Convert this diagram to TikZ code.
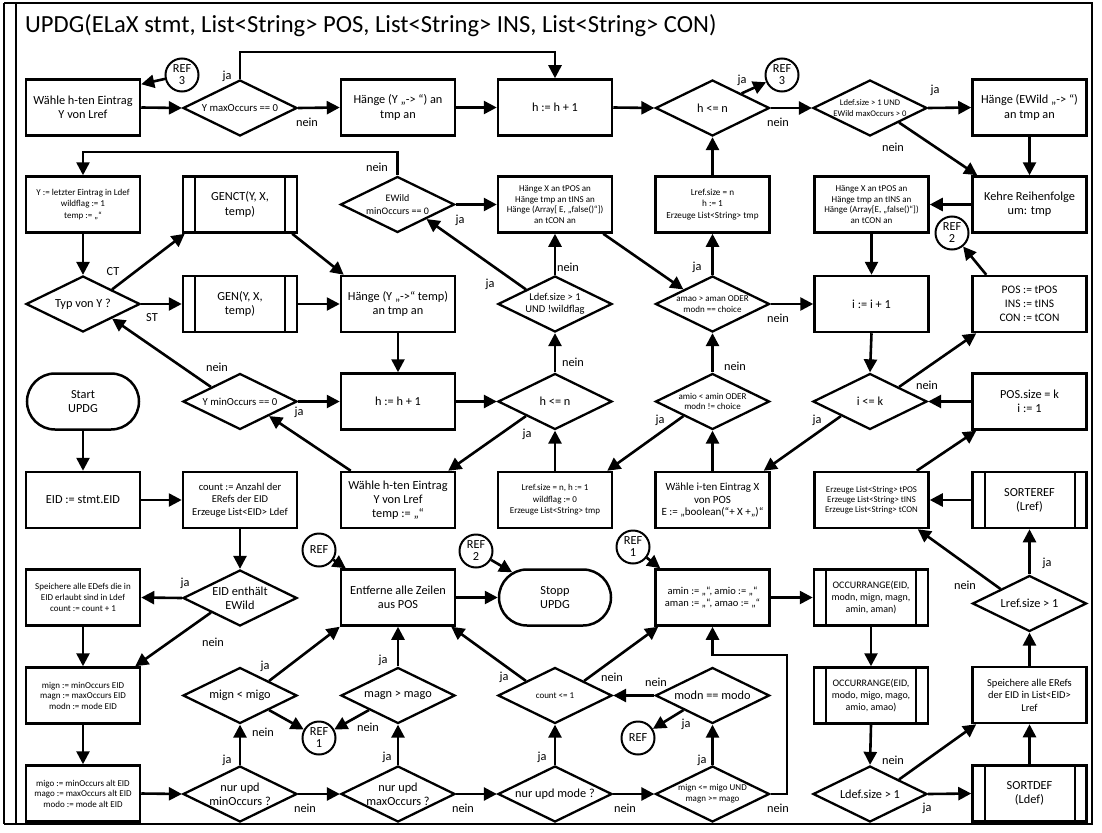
\documentclass[tikz,border=0pt]{standalone}
\usepackage{fontspec}
\setmainfont{Carlito}
\usetikzlibrary{arrows.meta,shapes.geometric,shapes.misc,calc}

\newcommand\szN{\fontsize{12.3}{14.2}\selectfont}
\newcommand\szT{\fontsize{24.6}{28}\selectfont}
\newcommand\szR{\fontsize{12.3}{12}\selectfont}
\newcommand\fsz[2]{\fontsize{#1}{#2}\selectfont}

\tikzset{
  box/.style={draw, line width=2.5pt, rectangle, minimum width=114pt, minimum height=56pt,
    inner sep=1pt, align=center, font=\szN},
  subproc/.style={box, path picture={
    \draw[line width=2pt]
      ([xshift=12pt]path picture bounding box.north west) -- ([xshift=12pt]path picture bounding box.south west)
      ([xshift=-12pt]path picture bounding box.north east) -- ([xshift=-12pt]path picture bounding box.south east);}},
  term/.style={draw, line width=2.5pt, rounded rectangle, minimum width=114pt, minimum height=56pt,
    inner sep=1pt, align=center, font=\szN},
  dia/.style={draw, line width=2.3pt, diamond, minimum width=114pt, minimum height=56pt, inner sep=0pt},
  dtxt/.style={align=center, inner sep=0pt, font=\szN},
  refc/.style={draw, line width=2pt, circle, minimum size=33pt, inner sep=0pt, align=center, font=\szR},
  arr/.style={line width=2.6pt, -{Triangle[length=13pt,width=13pt]}},
  lbl/.style={inner sep=0pt, font=\szN},
}

\begin{document}
\begin{tikzpicture}[x=1pt,y=-1pt]
\useasboundingbox (0,0) rectangle (1102,832);

% frame
\draw[line width=2pt] (4,3) -- (4,824);
\draw[line width=2pt] (15.5,3) -- (15.5,824);
\draw[line width=2.5pt] (4,3) -- (1092,3) -- (1092,824) -- (4,824);
\node[anchor=base west, inner sep=0pt, font=\szT] (title) at (25,33)
  {UPDG(ELaX stmt, List<String> POS, List<String> INS, List<String> CON)};

% ---------- row 1
\node[box] (wahl1) at (83,107.5) {Wähle h-ten Eintrag\\Y von Lref};
\node[dia, label={[dtxt,font=\fsz{10.7}{12}]center:{Y maxOccurs == 0}}] (dmax) at (240,108) {};
\node[box] (haenge1) at (398,107.5) {Hänge (Y „-> “) an\\tmp an};
\node[box] (hinc1) at (555,107.5) {h := h + 1};
\node[dia, label={[dtxt]center:{h <= n}}] (hle1) at (712.5,108) {};
\node[dia, label={[dtxt,font=\fsz{8.6}{10.4}]center:{Ldef.size > 1 UND\\EWild maxOccurs > 0}}] (dldef1) at (870,108) {};
\node[box] (haenge2) at (1029.5,107.5) {Hänge (EWild „-> “)\\an tmp an};
\node[refc] (ref3a) at (182,75) {REF\\3};
\node[refc] (ref3b) at (782,75) {REF\\3};

% ---------- row 2
\node[box, font=\fsz{9}{11.5}] (yletzt) at (83,204.5) {Y := letzter Eintrag in Ldef\\wildflag := 1\\temp := „“};
\node[subproc] (genct) at (240,204.5) {GENCT(Y, X,\\temp)};
\node[dia, label={[dtxt,font=\fsz{10}{12.5}]center:{EWild\\minOccurs == 0}}] (dewild) at (397.5,204.5) {};
\node[box, font=\fsz{9}{10.7}] (haengeXm) at (555,204.5) {Hänge X an tPOS an\\Hänge tmp an tINS an\\Hänge (Array[ E, „false()“])\\an tCON an};
\node[box, font=\fsz{9.2}{11.5}] (lrefn) at (712.5,204.5) {Lref.size = n\\h := 1\\Erzeuge List<String> tmp};
\node[box, font=\fsz{9}{10.7}] (haengeXr) at (871.5,204.5) {Hänge X an tPOS an\\Hänge tmp an tINS an\\Hänge (Array[E, „false()“])\\an tCON an};
\node[box] (kehre) at (1029.5,204.5) {Kehre Reihenfolge\\um: tmp};
\node[refc] (ref2a) at (952,233) {REF\\2};

% ---------- row 3
\node[dia, label={[dtxt]center:{Typ von Y ?}}] (dtyp) at (83,304) {};
\node[subproc] (gen) at (240,304) {GEN(Y, X,\\temp)};
\node[box] (haengeY2) at (398,304) {Hänge (Y „->“ temp)\\an tmp an};
\node[dia, label={[dtxt,font=\fsz{10.5}{11.7}]center:{Ldef.size > 1\\UND !wildflag}}] (dldef2) at (555,304) {};
\node[dia, label={[dtxt,font=\fsz{9}{10.7}]center:{amao > aman ODER\\modn == choice}}] (amao) at (712.5,304) {};
\node[box] (iinc) at (871.5,304) {i := i + 1};
\node[box, font=\fsz{11.5}{14}] (posas) at (1029.5,304) {POS := tPOS\\INS := tINS\\CON := tCON};

% ---------- row 4
\node[term] (start) at (83,401.5) {Start\\UPDG};
\node[dia, label={[dtxt,font=\fsz{10.7}{12}]center:{Y minOccurs == 0}}] (dminy) at (240,401.5) {};
\node[box] (hinc2) at (398,401.5) {h := h + 1};
\node[dia, label={[dtxt]center:{h <= n}}] (hle2) at (555,401.5) {};
\node[dia, label={[dtxt,font=\fsz{9}{10.7}]center:{amio < amin ODER\\modn != choice}}] (amio) at (712.5,401.5) {};
\node[dia, label={[dtxt]center:{i <= k}}] (ile) at (870,401.5) {};
\node[box] (possize) at (1029.5,401.5) {POS.size = k\\i := 1};

% ---------- row 5
\node[box] (eid) at (83,500) {EID := stmt.EID};
\node[box, font=\fsz{10.5}{12.7}] (count) at (240,500) {count := Anzahl der\\ERefs der EID\\Erzeuge List<EID> Ldef};
\node[box] (wahl2) at (398,500) {Wähle h-ten Eintrag\\Y von Lref\\temp := „“};
\node[box, font=\fsz{9}{11.5}] (lrefn2) at (555,500) {Lref.size = n, h := 1\\wildflag := 0\\Erzeuge List<String> tmp};
\node[box, font=\fsz{11}{12.8}] (wahli) at (712.5,500) {Wähle i-ten Eintrag X\\von POS\\E := „boolean(“+ X +„)“};
\node[box, font=\fsz{8.8}{10}] (erzeuge) at (871.5,500) {Erzeuge List<String> tPOS\\Erzeuge List<String> tINS\\Erzeuge List<String> tCON};
\node[subproc] (sortref) at (1029.5,500) {SORTEREF\\(Lref)};

% ---------- row 6
\node[box, font=\fsz{9}{10.6}] (speichD) at (83,597.5) {Speichere alle EDefs die in\\EID erlaubt sind in Ldef\\count := count + 1};
\node[dia, label={[dtxt]center:{EID enthält\\EWild}}] (deid) at (240,598) {};
\node[box] (entf) at (398,597.5) {Entferne alle Zeilen\\aus POS};
\node[term] (stopp) at (555,597.5) {Stopp\\UPDG};
\node[box, font=\fsz{10.5}{11.7}] (amin) at (712.5,597.5) {amin := „“, amio := „“\\aman := „“, amao := „“};
\node[subproc, font=\fsz{10}{11.7}] (occ1) at (871,597.5) {OCCURRANGE(EID,\\modn, mign, magn,\\amin, aman)};
\node[dia, label={[dtxt]center:{Lref.size > 1}}] (lrefsz) at (1029.5,603.5) {};
\node[refc] (refa) at (319,550) {REF};
\node[refc] (ref2b) at (476,551) {REF\\2};
\node[refc] (ref1a) at (633,547) {REF\\1};

% ---------- row 7
\node[box, font=\fsz{9}{10.5}] (mign) at (83,695.5) {mign := minOccurs EID\\magn := maxOccurs EID\\modn := mode EID};
\node[dia, label={[dtxt]center:{mign < migo}}] (dmig) at (240,695.5) {};
\node[dia, label={[dtxt]center:{magn > mago}}] (dmagn) at (398,695.5) {};
\node[dia, label={[dtxt,font=\fsz{9}{11}]center:{count <= 1}}] (dcount) at (555,695.5) {};
\node[dia, label={[dtxt]center:{modn == modo}}] (dmodn) at (712.5,695.5) {};
\node[subproc, font=\fsz{10}{11.7}] (occ2) at (871,695.5) {OCCURRANGE(EID,\\modo, migo, mago,\\amio, amao)};
\node[box, font=\fsz{10.5}{12.5}] (speichR) at (1029.5,695) {Speichere alle ERefs\\der EID in List<EID>\\Lref};
\node[refc] (ref1b) at (319,738) {REF\\1};
\node[refc] (refb) at (638,738) {REF};

% ---------- row 8
\node[box, font=\fsz{9}{10.5}] (migo) at (83,793.5) {migo := minOccurs alt EID\\mago := maxOccurs alt EID\\modo := mode alt EID};
\node[dia, label={[dtxt]center:{nur upd\\minOccurs ?}}] (dmin) at (240,794) {};
\node[dia, label={[dtxt]center:{nur upd\\maxOccurs ?}}] (dmax2) at (398,794) {};
\node[dia, label={[dtxt]center:{nur upd mode ?}}] (dmode) at (555,794) {};
\node[dia, label={[dtxt,font=\fsz{9}{11}]center:{mign <= migo UND\\magn >= mago}}] (dmig2) at (712.5,794) {};
\node[dia, label={[dtxt]center:{Ldef.size > 1}}] (ldefsz) at (870,794) {};
\node[subproc] (sortdef) at (1029.5,793.5) {SORTDEF\\(Ldef)};

% ---------- connectors
\coordinate (jtop) at (240,52);
\coordinate (ntop) at (397.5,152);
\coordinate (nright) at (787,655);

\draw[arr] (ref3a) -- ([yshift=-6pt]wahl1.north east);
\draw[arr] (wahl1.east) -- (dmax.west);
\draw[arr] (dmax.north) -- (jtop) -| (hinc1.north);
\draw[arr] (dmax.east) -- (haenge1.west);
\draw[arr] (haenge1.east) -- (hinc1.west);
\draw[arr] (hinc1.east) -- (hle1.west);
\draw[arr] (hle1.north east) -- (ref3b);
\draw[arr] (hle1.east) -- (dldef1.west);
\draw[arr] (dldef1.east) -- (haenge2.west);
\draw[arr] (dldef1.south east) -- ([xshift=6pt]kehre.north west);
\draw[arr] (haenge2.south) -- (kehre.north);
\draw[arr] (kehre.west) -- (haengeXr.east);
\draw[arr] (haengeXr.south) -- (iinc.north);
\draw[arr] ([xshift=15pt]posas.north west) -- (ref2a);

\draw[arr] (dewild.north) -- (ntop) -| (yletzt.north);
\draw[arr] (dewild.east) -- (haengeXm.west);
\draw[arr] ([xshift=-10pt]haengeXm.south east) -- (amao.north west);
\draw[arr] (lrefn.north) -- (hle1.south);
\draw[arr] (amao.north) -- (lrefn.south);
\draw[arr] (amao.east) -- (iinc.west);

\draw[arr] (yletzt.south) -- (dtyp.north);
\draw[arr] (dtyp.north east) -- ([xshift=3pt]genct.south west);
\draw[arr] (dtyp.east) -- (gen.west);
\draw[arr] ([xshift=-6pt]genct.south east) -- ([xshift=4pt]haengeY2.north west);
\draw[arr] (gen.east) -- (haengeY2.west);
\draw[arr] (haengeY2.south) -- (hinc2.north);
\draw[arr] (dldef2.north) -- (haengeXm.south);
\draw[arr] (dldef2.north west) -- (dewild.south east);

\draw[arr] (dminy.north west) -- (dtyp.south east);
\draw[arr] (dminy.east) -- (hinc2.west);
\draw[arr] (hinc2.east) -- (hle2.west);
\draw[arr] (hle2.north) -- (dldef2.south);
\draw[arr] (hle2.south west) -- ([xshift=-8pt]wahl2.north east);
\draw[arr] ([xshift=11pt]wahl2.north west) -- (dminy.south east);
\draw[arr] (lrefn2.north) -- (hle2.south);
\draw[arr] (amio.north) -- (amao.south);
\draw[arr] (amio.south west) -- ([xshift=-6pt]lrefn2.north east);
\draw[arr] (wahli.north) -- (amio.south);
\draw[arr] (iinc.south) -- (ile.north);
\draw[arr] (ile.north east) -- ([xshift=5pt]posas.south west);
\draw[arr] (possize.west) -- (ile.east);
\draw[arr] (ile.south west) -- ([xshift=-7pt]wahli.north east);
\draw[arr] ([xshift=-13pt]erzeuge.north east) -- ([xshift=5pt]possize.south west);
\draw[arr] (sortref.west) -- (erzeuge.east);

\draw[arr] (start.south) -- (eid.north);
\draw[arr] (eid.east) -- (count.west);
\draw[arr] (count.south) -- (deid.north);
\draw[arr] (deid.west) -- (speichD.east);
\draw[arr] (deid.south west) -- ([xshift=-6pt]mign.north east);
\draw[arr] (speichD.south) -- (mign.north);
\draw[arr] (mign.south) -- (migo.north);
\draw[arr] (migo.east) -- (dmin.west);

\draw[arr] (refa) -- ([xshift=6pt]entf.north west);
\draw[arr] (ref2b) -- (stopp);
\draw[arr] (entf.east) -- (stopp.west);
\draw[arr] (ref1a) -- ([xshift=6pt]amin.north west);
\draw[arr] (amin.east) -- (occ1.west);
\draw[arr] (occ1.south) -- (occ2.north);
\draw[arr] (occ2.south) -- (ldefsz.north);
\draw[arr] (lrefsz.north) -- (sortref.south);
\draw[arr] (lrefsz.north west) -- ([xshift=-12pt]erzeuge.south east);
\draw[arr] (speichR.north) -- (lrefsz.south);
\draw[arr] (sortdef.north) -- (speichR.south);
\draw[arr] (ldefsz.east) -- (sortdef.west);
\draw[arr] (ldefsz.north east) -- ([xshift=5pt]speichR.south west);

\draw[arr] (dmin.east) -- (dmax2.west);
\draw[arr] (dmin.north) -- (dmig.south);
\draw[arr] (dmig.north east) -- (entf.south west);
\draw[arr] (dmig.south east) -- (ref1b);
\draw[arr] (dmax2.east) -- (dmode.west);
\draw[arr] (dmax2.north) -- (dmagn.south);
\draw[arr] (dmagn.north) -- (entf.south);
\draw[arr] (dmagn.south west) -- (ref1b);
\draw[arr] (dmode.east) -- (dmig2.west);
\draw[arr] (dmode.north) -- (dcount.south);
\draw[arr] (dcount.north west) -- ([xshift=-5pt]entf.south east);
\draw[arr] (dcount.north east) -- ([xshift=4pt]amin.south west);
\draw[arr] (dmodn.west) -- (dcount.east);
\draw[arr] (dmodn.south west) -- (refb);
\draw[arr] (dmig2.north) -- (dmodn.south);
\draw[arr] (dmig2.east) -| (nright) -| (amin.south);

% ---------- branch labels
\node[lbl] (l1) at (227,76) {ja};
\node[lbl] (l2) at (307,122) {nein};
\node[lbl] (l3) at (742,80) {ja};
\node[lbl] (l4) at (778,122) {nein};
\node[lbl] (l5) at (935,90) {ja};
\node[lbl] (l6) at (893,147) {nein};
\node[lbl] (l7) at (377,167) {nein};
\node[lbl] (l8) at (460,220) {ja};
\node[lbl] (l9) at (113,272) {CT};
\node[lbl] (l10) at (152,318) {ST};
\node[lbl] (l11) at (490,284) {ja};
\node[lbl] (l12) at (568,267) {nein};
\node[lbl] (l13) at (697,267) {ja};
\node[lbl] (l14) at (778,318) {nein};
\node[lbl] (l15) at (217,367) {nein};
\node[lbl] (l16) at (299,412) {ja};
\node[lbl] (l17) at (573,362) {nein};
\node[lbl] (l18) at (527,434) {ja};
\node[lbl] (l19) at (735,366) {nein};
\node[lbl] (l20) at (660,420) {ja};
\node[lbl] (l21) at (817,420) {ja};
\node[lbl] (l22) at (927,385) {nein};
\node[lbl] (l23) at (1047,563) {ja};
\node[lbl] (l24) at (965,585) {nein};
\node[lbl] (l25) at (185,583) {ja};
\node[lbl] (l26) at (213,642) {nein};
\node[lbl] (l27) at (265,666) {ja};
\node[lbl] (l28) at (263,732) {nein};
\node[lbl] (l29) at (227,760) {ja};
\node[lbl] (l30) at (383,660) {ja};
\node[lbl] (l31) at (368,727) {nein};
\node[lbl] (l32) at (387,757) {ja};
\node[lbl] (l33) at (305,808) {nein};
\node[lbl] (l34) at (463,808) {nein};
\node[lbl] (l35) at (504,677) {ja};
\node[lbl] (l36) at (542,757) {ja};
\node[lbl] (l37) at (612,677) {nein};
\node[lbl] (l38) at (656,682) {nein};
\node[lbl] (l39) at (686,724) {ja};
\node[lbl] (l40) at (702,760) {ja};
\node[lbl] (l41) at (625,808) {nein};
\node[lbl] (l42) at (778,808) {nein};
\node[lbl] (l43) at (893,760) {nein};
\node[lbl] (l44) at (927,808) {ja};
\end{tikzpicture}
\end{document}
